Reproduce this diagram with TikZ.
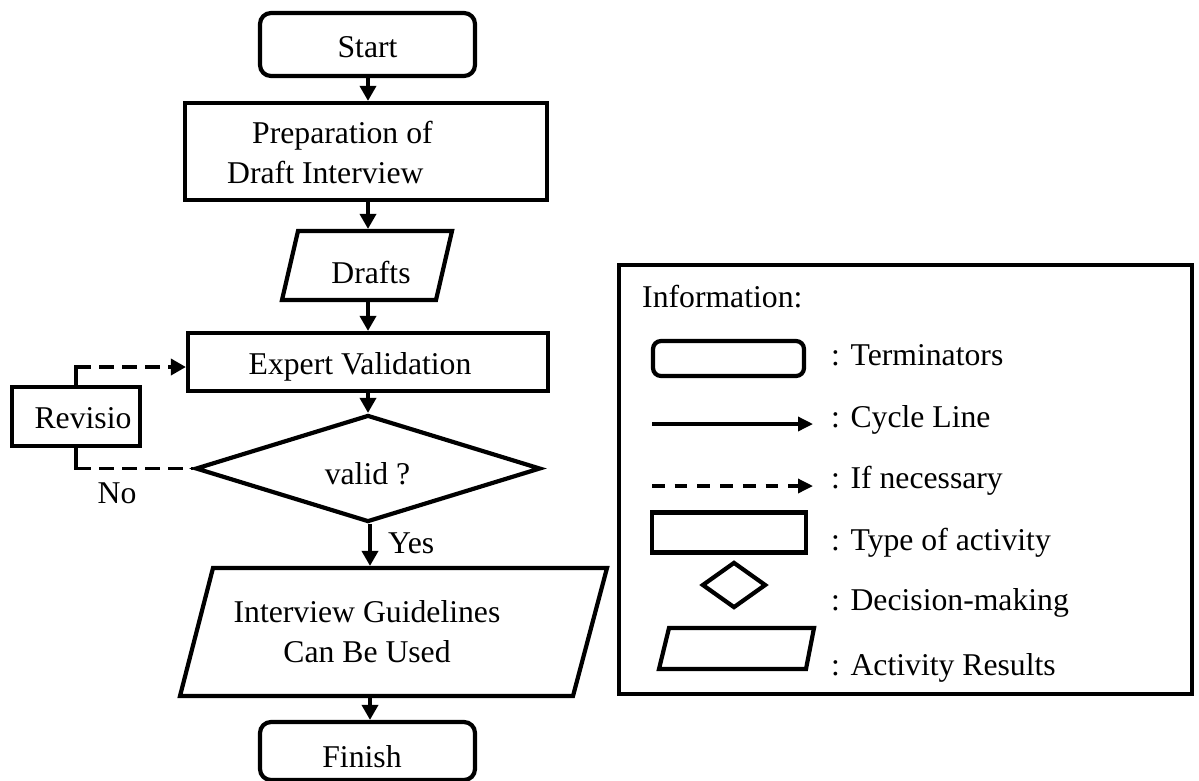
\documentclass[tikz,border=0pt]{standalone}
\usepackage{fontspec}
\setmainfont{Liberation Serif}
\usetikzlibrary{shapes.geometric,arrows.meta}
\begin{document}
\begin{tikzpicture}[x=1pt,y=-1pt,
  every node/.style={font=\fontsize{31.7}{39}\selectfont},
  shp/.style={draw, line width=4.2pt, inner sep=0pt},
  term/.style={shp, rounded corners=11pt},
  proc/.style={shp},
  anch/.style={inner sep=0pt, outer sep=2.1pt},
  lbl/.style={anchor=base, inner sep=0pt},
  lblw/.style={anchor=base west, inner sep=0pt},
  arr/.style={line width=3.6pt, -{Triangle[length=15pt,width=16pt]}},
  darr/.style={arr, dash pattern=on 15pt off 8pt},
  dline/.style={line width=3.6pt, dash pattern=on 15pt off 8pt},
  sline/.style={line width=3.6pt, line cap=rect},
  larr/.style={line width=3.4pt, -{Triangle[length=15pt,width=14pt]}},
  ldarr/.style={larr, dash pattern=on 12.7pt off 10pt},
]
\useasboundingbox (0,0) rectangle (1199,780);
\coordinate (axis) at (368,0);
\coordinate (axisb) at (370,0);

% Start
\node[term, minimum width=215pt, minimum height=63pt] (start) at (367.5,44.5) {};
\node[lbl] (tstart) at (367.5,57) {Start};

% Preparation
\node[proc, minimum width=362pt, minimum height=97pt] (prep) at (366,151.5) {};
\node[lblw] (tprep1) at (252,143) {Preparation of};
\node[lblw] (tprep2) at (227,183) {Draft Interview};

% Drafts
\draw[line width=4.2pt, line join=miter] (298,231) -- (452,231) -- (436,300) -- (282,300) -- cycle;
\node[anch, minimum width=170pt, minimum height=69pt] (drafts) at (367,265.5) {};
\node[lbl] (tdrafts) at (371,283) {Drafts};

% Expert validation
\node[proc, minimum width=360pt, minimum height=58pt] (ev) at (368,362) {};
\node[lbl] (tev) at (360,374) {Expert Validation};

% Decision
\node[shp, diamond, minimum width=345pt, minimum height=107pt] (valid) at (368,468.5) {};
\node[lbl] (tvalid) at (367.5,484) {valid ?};

% Revision
\node[proc, minimum width=128pt, minimum height=59pt] (rev) at (76,416.5) {};
\node[lbl] (trev) at (83,428) {Revisio};
\coordinate (r1) at (76,367);
\coordinate (r2) at (76,468.5);

% Interview guidelines
\draw[line width=4.2pt, line join=miter] (213,568) -- (607,568) -- (573,696) -- (180,696) -- cycle;
\node[anch, minimum width=427pt, minimum height=128pt] (igu) at (393.5,632) {};
\node[lbl] (tigu1) at (367,622) {Interview Guidelines};
\node[lbl] (tigu2) at (367,662) {Can Be Used};

% Finish
\node[term, minimum width=215pt, minimum height=58pt] (finish) at (367.5,751) {};
\node[lbl] (tfinish) at (362,767) {Finish};

% labels
\node[lbl] (tno) at (117,503) {No};
\node[lblw] (tyes) at (388,553) {Yes};

% connectors
\draw[arr] (start.south -| axis) -- (prep.north -| axis);
\draw[arr] (prep.south -| axis) -- (drafts.north -| axis);
\draw[arr] (drafts.south -| axis) -- (ev.north -| axis);
\draw[arr] (ev.south -| axis) -- (valid.north -| axis);
\draw[arr] (valid.south -| axisb) -- (igu.north -| axisb);
\draw[arr] (igu.south -| axisb) -- (finish.north -| axisb);
\draw[sline] (rev.north) -- (r1);
\draw[darr] (r1) -- (r1 -| ev.west);
\draw[sline] (rev.south) -- (r2);
\draw[dline] (r2) -- (valid.west);

% Legend
\node[shp, minimum width=573pt, minimum height=429pt] (legend) at (905.5,479.5) {};
\node[lblw] (tinfo) at (642,307) {Information:};
\node[term, rounded corners=8pt, minimum width=151pt, minimum height=35pt] (lterm) at (728.5,358.5) {};
\node[lblw] (tlterm) at (831,365) {: Terminators};
\coordinate (lc1) at (652,424);
\coordinate (lc2) at (813,424);
\draw[larr] (lc1) -- (lc2);
\node[lblw] (tlcyc) at (831,427) {: Cycle Line};
\coordinate (ld1) at (652,486);
\coordinate (ld2) at (813,486);
\draw[ldarr] (ld1) -- (ld2);
\node[lblw] (tlnec) at (831,488) {: If necessary};
\node[proc, minimum width=154pt, minimum height=40pt] (ltype) at (729,532.5) {};
\node[lblw] (tltype) at (831,550) {: Type of activity};
\node[shp, diamond, minimum width=64pt, minimum height=46pt] (ldec) at (734,585) {};
\node[lblw] (tldec) at (831,610) {: Decision-making};
\draw[line width=4.2pt, line join=miter] (669,628) -- (814,628) -- (806,669) -- (659,669) -- cycle;
\node[lblw] (tlres) at (831,675) {: Activity Results};
\end{tikzpicture}
\end{document}
